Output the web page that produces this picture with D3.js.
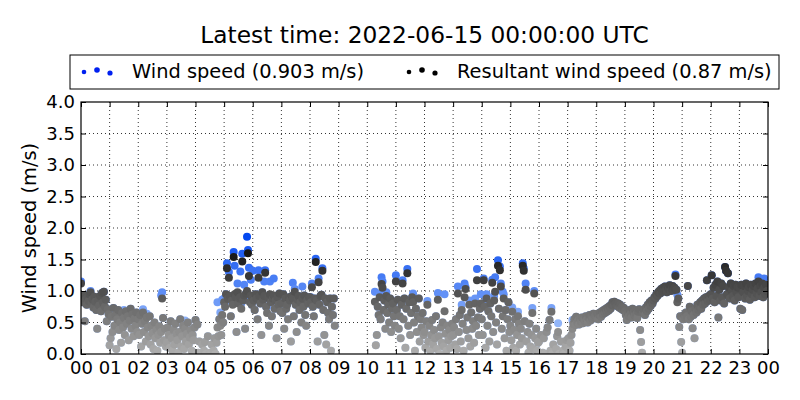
<!DOCTYPE html>
<html>
<head>
<meta charset="utf-8">
<script src="https://cdn.jsdelivr.net/npm/d3@7"></script>
<style>
  body { margin: 0; background: #fff; }
  text { font-family: "DejaVu Sans", sans-serif; }
</style>
</head>
<body>
<div id="chart"></div>
<script>
// Chart text
const title = "Latest time: 2022-06-15 00:00:00 UTC";
const seriesNames = ["Wind speed (0.903 m/s)", "Resultant wind speed (0.87 m/s)"];
const yLabel = "Wind speed (m/s)";
const yTicks = [0, 0.5, 1, 1.5, 2, 2.5, 3, 3.5, 4];
const hourLabels = ["00","01","02","03","04","05","06","07","08","09","10","11",
                    "12","13","14","15","16","17","18","19","20","21","22","23","00"];

// one sample every 2 minutes from 2022-06-14 00:00 UTC, one row per hour
const stepMinutes = 2;
const windSpeed = [
  1.15,0.88,0.82,0.93,0.52,0.86,0.78,0.90,0.84,0.95,1.00,0.80,0.87,0.74,0.91,0.83,0.70,0.40,0.85,0.77,0.92,0.68,0.97,0.82,0.99,0.75,0.86,0.52,0.71,0.63,
  0.14,0.25,0.59,0.35,0.73,0.45,0.62,0.08,0.55,0.70,0.38,0.50,0.18,0.65,0.42,0.70,0.30,0.68,0.48,0.60,0.22,0.53,0.72,0.40,0.63,0.28,0.56,0.45,0.66,0.35,
  0.55,0.30,0.62,0.12,0.48,0.71,0.35,0.52,0.20,0.64,0.42,0.28,0.60,0.15,0.45,0.33,0.08,0.50,0.25,0.38,0.05,0.30,0.44,0.18,0.93,0.98,0.57,0.22,0.40,0.12,
  0.18,0.42,0.30,0.10,0.52,0.25,0.05,0.38,0.15,0.48,0.32,0.22,0.02,0.35,0.55,0.12,0.28,0.45,0.08,0.53,0.20,0.32,0.50,0.15,0.26,0.38,0.05,0.30,0.22,0.42,
  0.54,0.00,0.47,0.02,0.20,0.00,0.00,0.15,0.00,0.05,0.19,0.00,0.00,0.28,0.00,0.02,0.00,0.15,0.00,0.05,0.25,0.00,0.18,0.82,0.28,0.55,0.66,0.30,0.86,0.50,
  0.88,0.82,0.95,1.44,0.88,1.30,0.92,0.60,0.85,0.86,1.62,1.40,0.90,0.35,1.12,0.90,0.88,1.31,0.80,1.59,0.85,1.10,0.40,0.96,1.86,1.65,1.37,0.92,1.18,0.78,
  1.32,0.85,0.70,0.95,0.88,0.55,1.33,0.92,0.80,0.30,0.98,0.86,1.15,1.33,0.75,0.74,0.90,0.45,1.15,0.82,0.60,0.88,1.20,0.72,0.85,0.25,0.90,0.78,0.96,0.68,
  0.80,0.65,0.95,0.40,0.88,0.72,0.78,0.55,0.90,0.85,0.20,0.92,1.13,0.60,1.03,0.78,0.35,0.86,0.92,0.70,0.82,0.50,1.07,0.75,0.93,0.62,0.45,0.85,0.80,0.90,
  0.90,0.90,1.12,0.75,0.60,0.88,1.51,0.85,0.20,1.20,0.78,0.92,0.94,1.36,0.70,0.30,0.88,0.15,0.82,0.65,0.55,0.88,0.05,0.75,0.62,0.88,0.45,null,null,null,
  null,null,null,null,null,null,null,null,null,null,null,null,null,null,null,null,null,null,null,null,null,null,null,null,null,null,null,null,null,null,
  null,null,null,null,null,null,null,null,0.99,0.14,0.30,0.75,0.62,0.96,0.55,1.22,1.15,0.70,0.85,0.40,0.98,0.65,0.78,0.50,0.88,0.35,0.72,0.80,0.60,0.45,
  1.25,0.70,0.86,0.40,0.60,0.25,0.78,1.17,0.55,0.88,0.10,0.72,1.35,0.45,0.82,0.30,0.65,0.90,0.96,0.50,0.05,0.72,0.35,0.60,0.88,0.20,0.55,0.42,0.65,0.30,
  0.35,0.10,0.52,0.84,0.20,0.45,0.05,0.30,0.54,0.15,0.38,0.25,0.60,0.08,0.97,0.28,0.00,0.42,0.18,0.50,0.12,0.95,0.32,0.05,0.45,0.22,0.38,0.10,0.28,0.48,
  0.30,0.42,0.15,0.55,0.08,1.07,0.35,0.62,0.20,0.78,0.48,0.05,1.12,1.06,0.38,0.58,0.25,0.85,0.12,0.66,0.40,0.52,0.18,0.88,0.45,1.35,0.58,0.30,0.72,0.95,
  0.55,0.30,1.20,0.83,0.10,0.95,0.45,0.68,0.20,0.80,0.60,1.18,0.35,0.92,1.22,0.50,0.15,1.49,0.72,1.39,1.12,0.40,0.99,0.95,0.25,0.70,0.05,0.55,0.82,0.35,
  0.45,0.22,0.74,0.10,0.38,0.55,0.05,0.30,0.67,0.48,0.15,0.40,0.25,1.44,1.36,0.52,1.12,0.20,0.35,0.02,0.48,0.12,0.30,0.73,0.08,1.00,0.25,0.40,0.05,0.18,
  0.20,0.00,0.30,0.00,0.02,0.25,0.00,0.00,0.35,0.42,0.00,0.54,0.05,0.73,0.00,0.15,0.00,0.00,0.08,0.28,0.49,0.00,0.00,0.20,0.00,0.05,0.00,0.00,0.12,0.22,
  0.10,0.25,0.05,0.18,0.30,0.54,0.48,0.55,0.46,0.59,0.50,0.53,0.47,0.56,0.51,0.58,0.49,0.55,0.52,0.60,0.54,0.50,0.57,0.62,0.53,0.59,0.56,0.64,0.58,0.61,
  0.58,0.64,0.55,0.62,0.66,0.59,0.68,0.63,0.70,0.65,0.72,0.67,0.74,0.69,0.76,0.72,0.78,0.82,0.77,0.83,0.79,0.81,0.76,0.80,0.74,0.78,0.72,0.75,0.70,0.73,
  0.68,0.62,0.54,0.66,0.60,0.70,0.64,0.58,0.72,0.66,0.61,0.69,0.63,0.57,0.67,0.71,0.38,0.19,0.02,0.65,0.70,0.62,0.74,0.68,0.78,0.72,0.82,0.76,0.85,0.80,
  0.85,0.90,0.88,0.95,0.92,0.98,1.00,0.96,1.03,0.99,1.05,1.01,1.07,1.02,0.98,1.06,1.03,1.09,1.00,1.04,1.08,1.01,1.05,1.26,1.02,0.94,0.88,0.43,0.60,0.19,
  0.02,0.55,0.62,0.58,0.66,0.60,1.08,0.55,0.75,0.59,0.68,0.41,0.62,0.25,0.72,0.66,0.78,0.70,0.75,0.82,0.72,0.85,0.78,0.88,0.80,0.90,1.17,0.84,0.92,0.86,
  0.95,1.25,0.88,1.05,0.82,1.10,0.92,1.15,0.58,1.02,0.85,1.12,0.90,1.08,0.80,1.38,1.32,0.95,1.28,1.05,0.88,1.12,1.00,0.92,1.08,0.85,1.10,0.98,1.06,0.90,
  1.05,0.72,1.10,0.70,0.98,1.08,0.88,1.12,0.92,1.00,1.06,0.86,1.10,0.95,1.02,1.08,0.90,1.12,0.96,1.04,1.22,0.92,1.08,0.98,1.15,0.90,1.20,0.95,1.10,1.00,
  1.00
];
const resultant = [
  1.12,0.88,0.82,0.93,0.52,0.86,0.78,0.90,0.84,0.95,0.98,0.80,0.87,0.74,0.91,0.83,0.70,0.40,0.85,0.77,0.92,0.68,0.97,0.82,0.99,0.75,0.86,0.52,0.71,0.63,
  0.14,0.25,0.59,0.35,0.73,0.45,0.62,0.08,0.55,0.70,0.38,0.50,0.18,0.65,0.42,0.57,0.30,0.68,0.48,0.60,0.22,0.53,0.72,0.40,0.63,0.28,0.56,0.45,0.66,0.35,
  0.55,0.30,0.62,0.12,0.48,0.66,0.35,0.52,0.20,0.58,0.42,0.28,0.60,0.15,0.45,0.33,0.08,0.50,0.25,0.38,0.05,0.30,0.44,0.18,0.35,0.88,0.57,0.22,0.40,0.12,
  0.18,0.42,0.30,0.10,0.52,0.25,0.05,0.38,0.15,0.48,0.32,0.22,0.02,0.35,0.55,0.12,0.28,0.45,0.08,0.40,0.20,0.32,0.50,0.15,0.26,0.38,0.05,0.30,0.22,0.42,
  0.54,0.00,0.47,0.02,0.20,0.00,0.00,0.15,0.00,0.05,0.19,0.00,0.00,0.28,0.00,0.02,0.00,0.15,0.00,0.05,0.25,0.00,0.18,0.42,0.28,0.55,0.45,0.30,0.62,0.50,
  0.82,0.75,0.95,1.36,0.88,1.21,0.92,0.60,0.85,0.78,1.54,0.95,0.90,0.35,0.98,0.80,0.88,0.90,0.72,1.47,0.85,0.93,0.40,0.96,1.00,1.60,1.24,0.82,0.93,0.78,
  0.90,0.85,0.70,0.95,0.88,0.55,1.21,0.92,0.80,0.30,0.98,0.86,0.92,1.29,0.75,0.65,0.90,0.45,0.95,0.82,0.60,0.88,0.93,0.72,0.85,0.25,0.90,0.78,0.96,0.68,
  0.80,0.65,0.95,0.40,0.88,0.72,0.78,0.55,0.90,0.85,0.20,0.92,0.88,0.60,0.99,0.78,0.35,0.86,0.92,0.70,0.82,0.50,0.88,0.75,0.93,0.62,0.45,0.85,0.80,0.90,
  0.90,0.82,1.06,0.75,0.60,0.88,1.46,0.85,0.20,1.14,0.78,0.92,0.94,1.32,0.70,0.30,0.88,0.15,0.82,0.65,0.55,0.88,0.05,0.75,0.62,0.88,0.45,null,null,null,
  null,null,null,null,null,null,null,null,null,null,null,null,null,null,null,null,null,null,null,null,null,null,null,null,null,null,null,null,null,null,
  null,null,null,null,null,null,null,null,0.83,0.14,0.30,0.75,0.62,0.90,0.55,1.11,1.05,0.70,0.85,0.40,0.92,0.65,0.78,0.50,0.88,0.35,0.72,0.80,0.60,0.45,
  1.15,0.70,0.86,0.40,0.60,0.25,0.78,1.12,0.55,0.88,0.10,0.72,1.28,0.45,0.82,0.30,0.65,0.90,0.82,0.50,0.05,0.72,0.35,0.60,0.88,0.20,0.55,0.42,0.65,0.30,
  0.35,0.10,0.52,0.78,0.20,0.45,0.05,0.30,0.54,0.15,0.38,0.25,0.60,0.08,0.86,0.28,0.00,0.42,0.18,0.50,0.12,0.68,0.32,0.05,0.45,0.22,0.38,0.10,0.28,0.48,
  0.30,0.42,0.15,0.55,0.08,0.96,0.35,0.62,0.20,0.70,0.48,0.05,0.90,1.03,0.38,0.58,0.25,0.78,0.12,0.66,0.40,0.52,0.18,0.80,0.45,1.17,0.58,0.30,0.72,0.80,
  0.55,0.30,1.17,0.75,0.10,0.88,0.45,0.68,0.20,0.80,0.60,1.13,0.35,0.85,0.99,0.50,0.15,1.40,0.72,1.33,1.07,0.40,0.60,0.88,0.25,0.70,0.05,0.55,0.82,0.35,
  0.45,0.22,0.67,0.10,0.38,0.55,0.05,0.30,0.60,0.48,0.15,0.40,0.25,1.40,1.32,0.52,1.02,0.20,0.35,0.02,0.48,0.12,0.30,0.65,0.08,0.96,0.25,0.40,0.05,0.18,
  0.20,0.00,0.30,0.00,0.02,0.25,0.00,0.00,0.35,0.42,0.00,0.54,0.05,0.67,0.00,0.15,0.00,0.00,0.08,0.28,0.35,0.00,0.00,0.20,0.00,0.05,0.00,0.00,0.12,0.22,
  0.10,0.25,0.05,0.18,0.30,0.40,0.48,0.55,0.46,0.59,0.50,0.53,0.47,0.56,0.51,0.58,0.49,0.55,0.52,0.60,0.54,0.50,0.57,0.62,0.53,0.59,0.56,0.64,0.58,0.61,
  0.58,0.64,0.55,0.62,0.66,0.59,0.68,0.63,0.70,0.65,0.72,0.67,0.74,0.69,0.76,0.72,0.78,0.82,0.77,0.83,0.79,0.81,0.76,0.80,0.74,0.78,0.72,0.75,0.70,0.73,
  0.68,0.62,0.54,0.66,0.60,0.70,0.64,0.58,0.72,0.66,0.61,0.69,0.63,0.57,0.67,0.71,0.38,0.19,0.02,0.65,0.70,0.62,0.74,0.68,0.78,0.72,0.82,0.76,0.85,0.80,
  0.85,0.90,0.88,0.95,0.92,0.98,1.00,0.96,1.03,0.99,1.05,1.01,1.07,1.02,0.98,1.06,1.03,1.09,1.00,1.04,1.08,1.01,1.05,1.24,1.02,0.82,0.88,0.43,0.60,0.19,
  0.02,0.55,0.62,0.58,0.66,0.60,1.08,0.55,0.75,0.59,0.68,0.41,0.62,0.25,0.72,0.66,0.78,0.70,0.75,0.82,0.72,0.85,0.78,0.88,0.80,0.90,1.17,0.84,0.92,0.86,
  0.95,1.25,0.88,1.05,0.82,1.10,0.92,1.15,0.58,1.02,0.85,1.12,0.90,1.08,0.80,1.38,1.32,0.95,1.28,1.05,0.88,1.12,1.00,0.92,1.08,0.85,1.10,0.98,1.06,0.90,
  1.05,0.72,1.10,0.70,0.98,1.08,0.88,1.12,0.92,1.00,1.06,0.86,1.10,0.95,1.02,1.08,0.90,1.12,0.96,1.04,1.15,0.92,1.08,0.98,1.12,0.90,1.05,0.95,1.10,1.00,
  1.00
];

const width = 800, height = 400;
const plot = { left: 81, right: 768, top: 102, bottom: 354 };

const svg = d3.select("#chart").append("svg")
    .attr("width", width)
    .attr("height", height);

const t0 = Date.UTC(2022, 5, 14);
const x = d3.scaleUtc()
    .domain([new Date(t0), new Date(t0 + 24 * 3600e3)])
    .range([plot.left, plot.right]);
const y = d3.scaleLinear()
    .domain([0, 4])
    .range([plot.bottom, plot.top]);

const hourTicks = hourLabels.map((h, i) => new Date(t0 + i * 3600e3));

// colour maps: grey for resultant, blue for wind speed
const greyScale = d3.scaleLinear().domain([0, 1.7]).range(["#b0b0b0", "#0c0c0c"]).clamp(true);
const blueScale = d3.scaleLinear().domain([0, 1.9]).range(["#c4dcfc", "#0045f0"]).clamp(true);

const toPoints = arr => arr
    .map((v, i) => ({ t: new Date(t0 + i * stepMinutes * 60e3), v: v }))
    .filter(d => d.v !== null);

// Title
svg.append("text")
    .attr("x", (plot.left + plot.right) / 2)
    .attr("y", 43)
    .attr("text-anchor", "middle")
    .style("font-size", "23.3px")
    .text(title);

// Grid
const grid = svg.append("g");
grid.selectAll(".gx")
    .data(hourTicks.slice(1, -1))
    .join("line")
    .attr("x1", d => x(d)).attr("x2", d => x(d))
    .attr("y1", plot.top).attr("y2", plot.bottom)
    .attr("stroke", "#000").attr("stroke-width", 0.8)
    .attr("stroke-dasharray", "1,3");
grid.selectAll(".gy")
    .data(yTicks.slice(1, -1))
    .join("line")
    .attr("x1", plot.left).attr("x2", plot.right)
    .attr("y1", d => y(d)).attr("y2", d => y(d))
    .attr("stroke", "#000").attr("stroke-width", 0.8)
    .attr("stroke-dasharray", "1,3");

// Clip for markers
svg.append("clipPath").attr("id", "plotClip")
    .append("rect")
    .attr("x", plot.left).attr("y", plot.top)
    .attr("width", plot.right - plot.left)
    .attr("height", plot.bottom - plot.top);

const marks = svg.append("g").attr("clip-path", "url(#plotClip)");

marks.append("g").selectAll("circle")
    .data(toPoints(windSpeed))
    .join("circle")
    .attr("cx", d => x(d.t))
    .attr("cy", d => y(d.v))
    .attr("r", 4)
    .attr("fill", d => blueScale(d.v));

marks.append("g").selectAll("circle")
    .data(toPoints(resultant))
    .join("circle")
    .attr("cx", d => x(d.t))
    .attr("cy", d => y(d.v))
    .attr("r", 4)
    .attr("fill", d => greyScale(d.v));

// Axes (ticks pointing inwards)
const xAxis = d3.axisBottom(x)
    .tickValues(hourTicks)
    .tickFormat((d, i) => hourLabels[i])
    .tickSize(-5)
    .tickPadding(7);
const yAxis = d3.axisLeft(y)
    .tickValues(yTicks)
    .tickFormat(d3.format(".1f"))
    .tickSize(-5)
    .tickPadding(6);

const gx = svg.append("g")
    .attr("transform", `translate(0,${plot.bottom})`)
    .call(xAxis);
const gy = svg.append("g")
    .attr("transform", `translate(${plot.left},0)`)
    .call(yAxis);
svg.append("g")
    .attr("transform", `translate(0,${plot.top})`)
    .call(d3.axisTop(x).tickValues(hourTicks).tickFormat("").tickSize(-5));
svg.append("g")
    .attr("transform", `translate(${plot.right},0)`)
    .call(d3.axisRight(y).tickValues(yTicks).tickFormat("").tickSize(-5));

svg.selectAll(".domain").remove();
svg.selectAll(".tick line").attr("stroke", "#000");
[gx, gy].forEach(g => g.selectAll("text")
    .attr("fill", "#000")
    .style("font-family", "'DejaVu Sans', sans-serif")
    .style("font-size", "18px"));

// Frame
svg.append("rect")
    .attr("x", plot.left).attr("y", plot.top)
    .attr("width", plot.right - plot.left)
    .attr("height", plot.bottom - plot.top)
    .attr("fill", "none")
    .attr("stroke", "#000")
    .attr("stroke-width", 1.2);

// Y label
svg.append("text")
    .attr("transform", `translate(36,${(plot.top + plot.bottom) / 2}) rotate(-90)`)
    .attr("text-anchor", "middle")
    .style("font-size", "19.4px")
    .text(yLabel);

// Legend
const legend = svg.append("g");
legend.append("rect")
    .attr("x", 70).attr("y", 55)
    .attr("width", 709).attr("height", 34)
    .attr("fill", "#fff")
    .attr("stroke", "#000")
    .attr("stroke-width", 1);

const legendDots = [
  { dx: 0, dy: 1, r: 2.3 },
  { dx: 13, dy: -1, r: 2.8 },
  { dx: 26, dy: 2, r: 2.6 }
];
const legendItems = [
  { x: 84, textX: 132, color: "#0020f0", name: seriesNames[0] },
  { x: 409, textX: 457, color: "#000", name: seriesNames[1] }
];
legendItems.forEach(item => {
  legend.selectAll(null)
      .data(legendDots)
      .join("circle")
      .attr("cx", d => item.x + d.dx)
      .attr("cy", d => 71 + d.dy)
      .attr("r", d => d.r)
      .attr("fill", item.color);
  legend.append("text")
      .attr("x", item.textX)
      .attr("y", 78)
      .style("font-size", "19.4px")
      .text(item.name);
});
</script>
</body>
</html>
